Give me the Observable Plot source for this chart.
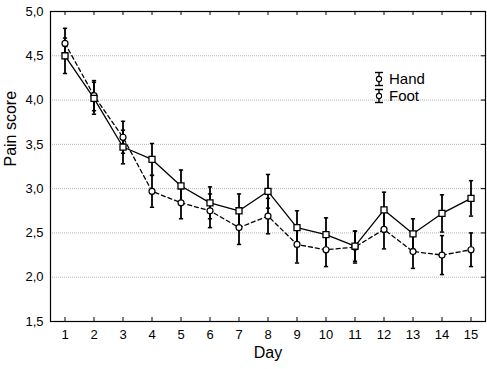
<!DOCTYPE html>
<html>
<head>
<meta charset="utf-8">
<script src="https://cdn.jsdelivr.net/npm/d3@7"></script>
<script src="https://cdn.jsdelivr.net/npm/@observablehq/plot@0.6"></script>
<style>
  html, body { margin: 0; padding: 0; background: #fff; }
  #wrap { position: relative; width: 487px; height: 369px; font-family: "Liberation Sans", Arial, sans-serif; }
  #legend { position: absolute; left: 373px; top: 70px; font-size: 15px; color: #000; }
  #legend .row { display: flex; align-items: center; height: 17px; }
  #legend svg { margin-right: 4px; display: block; flex: none; }
</style>
</head>
<body>
<div id="wrap"><div id="chart"></div>
<div id="legend"></div></div>
<script>
const days = [1,2,3,4,5,6,7,8,9,10,11,12,13,14,15];
const handMean = [4.50,4.02,3.47,3.33,3.03,2.84,2.75,2.97,2.56,2.48,2.35,2.76,2.49,2.72,2.89];
const handErr  = [0.20,0.18,0.19,0.18,0.18,0.18,0.19,0.19,0.19,0.19,0.17,0.20,0.17,0.21,0.20];
const footMean = [4.64,4.05,3.58,2.97,2.84,2.75,2.56,2.69,2.37,2.31,2.34,2.54,2.29,2.25,2.31];
const footErr  = [0.17,0.17,0.18,0.18,0.18,0.19,0.19,0.20,0.21,0.19,0.18,0.22,0.19,0.22,0.19];
const seriesNames = ["Hand", "Foot"];
const yTicks = [1.5,2.0,2.5,3.0,3.5,4.0,4.5,5.0];

const hand = days.map((d, i) => ({day: d, v: handMean[i], e: handErr[i], s: seriesNames[0]}));
const foot = days.map((d, i) => ({day: d, v: footMean[i], e: footErr[i], s: seriesNames[1]}));
const all = hand.concat(foot);

const capSymbol = {
  draw(ctx, size) {
    const r = Math.sqrt(size) / 2;
    ctx.moveTo(-r, 0); ctx.lineTo(r, 0);
  }
};
const fmt = d => d.toFixed(1).replace(".", ",");

const chart = Plot.plot({
  width: 487,
  height: 369,
  marginLeft: 50,
  marginRight: 2,
  marginTop: 11,
  marginBottom: 48,
  style: {fontFamily: "'Liberation Sans', Arial, sans-serif", fontSize: "13px", color: "#000", background: "#fff"},
  x: {domain: [0.5, 15.5]},
  y: {domain: [1.5, 5.0]},
  marks: [
    Plot.gridY(yTicks.slice(1, -1), {stroke: "#b4b4b4", strokeOpacity: 1, strokeDasharray: "1,1"}),
    Plot.frame({stroke: "#000", strokeWidth: 1.2}),
    Plot.axisX(days, {anchor: "bottom", tickSize: 0, tickPadding: 8, fontSize: 13, label: null, tickFormat: d => String(d)}),
    Plot.ruleX(days, {x: d => d, y1: 1.5, y2: 1.545, stroke: "#000"}),
    Plot.ruleX(days, {x: d => d, y1: 4.955, y2: 5.0, stroke: "#000"}),
    Plot.axisY(yTicks, {anchor: "left", tickSize: 0, tickPadding: 7, fontSize: 13, label: null, tickFormat: fmt}),
    Plot.ruleY(yTicks.slice(1, -1), {y: d => d, x1: 15.36, x2: 15.5, stroke: "#000"}),
    Plot.text(["Day"], {frameAnchor: "bottom", dy: 36, fontSize: 16}),
    Plot.text(["Pain score"], {frameAnchor: "left", rotate: -90, dx: -40, fontSize: 16}),
    Plot.ruleX(all, {x: "day", y1: d => d.v - d.e, y2: d => d.v + d.e, stroke: "#000", strokeWidth: 1.8}),
    Plot.dot(all, {x: "day", y: d => d.v - d.e, symbol: capSymbol, r: 2.4, stroke: "#000", strokeWidth: 1.5}),
    Plot.dot(all, {x: "day", y: d => d.v + d.e, symbol: capSymbol, r: 2.4, stroke: "#000", strokeWidth: 1.5}),
    Plot.line(hand, {x: "day", y: "v", stroke: "#000", strokeWidth: 1.3}),
    Plot.line(foot, {x: "day", y: "v", stroke: "#000", strokeWidth: 1.3, strokeDasharray: "4,3"}),
    Plot.dot(foot, {x: "day", y: "v", r: 3, fill: "#fff", stroke: "#000", strokeWidth: 1.2}),
    Plot.dot(hand, {x: "day", y: "v", symbol: "square", r: 3.4, fill: "#fff", stroke: "#000", strokeWidth: 1.3})
  ]
});
document.getElementById("chart").appendChild(chart);

const legend = document.getElementById("legend");
seriesNames.forEach(name => {
  const row = document.createElement("div");
  row.className = "row";
  row.innerHTML = `<svg width="12" height="16" viewBox="0 0 12 16"><line x1="2" x2="10" y1="1.5" y2="1.5" stroke="#000" stroke-width="1.4"/><line x1="2" x2="10" y1="14.5" y2="14.5" stroke="#000" stroke-width="1.4"/><line x1="6" x2="6" y1="1.5" y2="14.5" stroke="#000" stroke-width="1.4"/><circle cx="6" cy="8" r="2.6" fill="#fff" stroke="#000" stroke-width="1.1"/></svg><span>${name}</span>`;
  legend.appendChild(row);
});
</script>
</body>
</html>
